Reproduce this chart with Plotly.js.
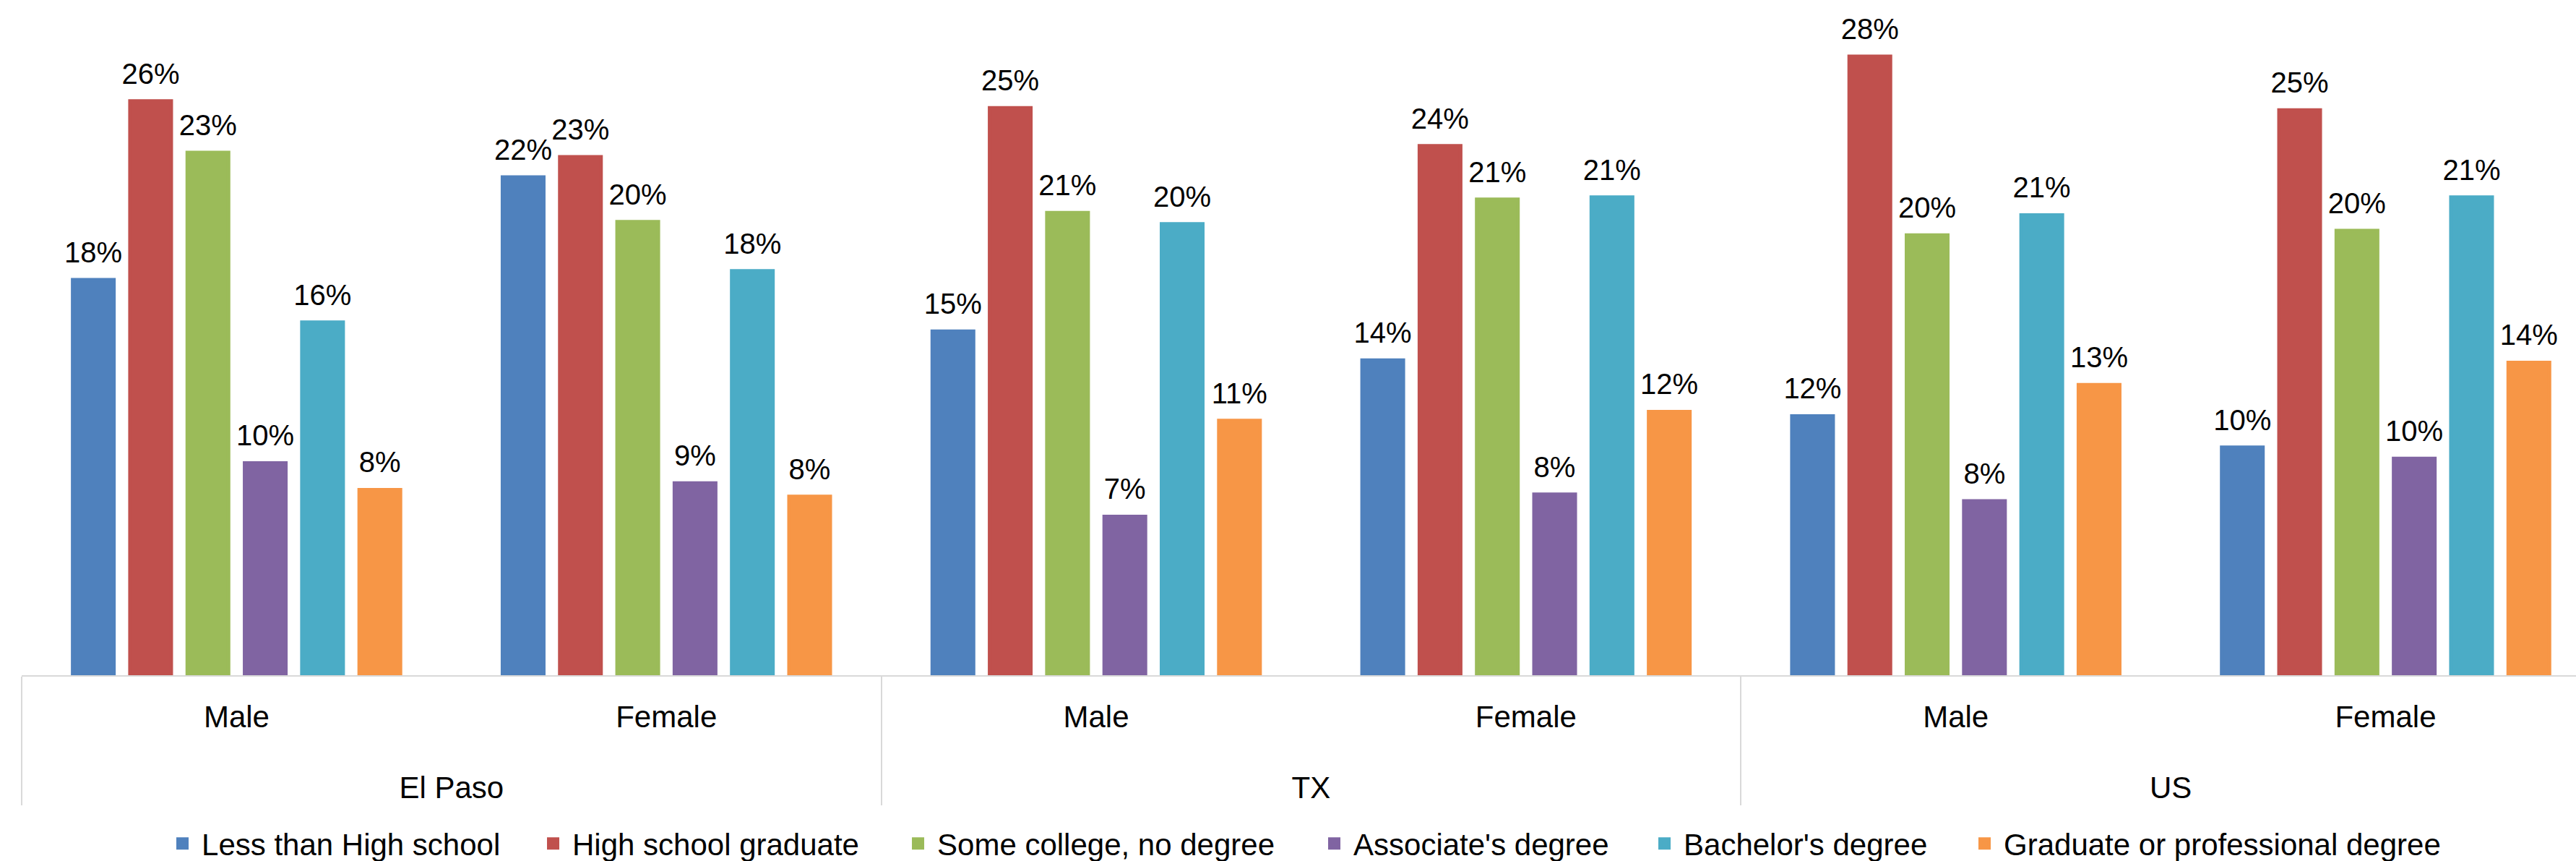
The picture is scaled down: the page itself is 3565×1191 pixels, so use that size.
<!DOCTYPE html>
<html>
<head>
<meta charset="utf-8">
<script src="https://cdn.plot.ly/plotly-3.0.1.min.js"></script>
<style>
html, body { margin: 0; padding: 0; background: #ffffff; overflow: hidden; }
#chart { width: 3565px; height: 1191px; }
</style>
</head>
<body>
<div id="chart"></div>
<script>
// Outer and inner category labels
const regions = ["El Paso", "El Paso", "TX", "TX", "US", "US"];
const sexes = ["Male", "Female", "Male", "Female", "Male", "Female"];

// Series (percent of population)
const seriesNames = [
  "Less than High school",
  "High school graduate",
  "Some college, no degree",
  "Associate's degree",
  "Bachelor's degree",
  "Graduate or professional degree"
];
const lessThanHighSchool = [17.7, 22.3, 15.4, 14.1, 11.6, 10.2];
const highSchoolGraduate = [25.7, 23.2, 25.4, 23.7, 27.7, 25.3];
const someCollege = [23.4, 20.3, 20.7, 21.3, 19.7, 19.9];
const associates = [9.5, 8.6, 7.1, 8.1, 7.8, 9.7];
const bachelors = [15.8, 18.1, 20.2, 21.4, 20.6, 21.4];
const graduate = [8.3, 8.0, 11.4, 11.8, 13.0, 14.0];

const seriesValues = [lessThanHighSchool, highSchoolGraduate, someCollege, associates, bachelors, graduate];
const colors = ["#4F81BD", "#C0504D", "#9BBB59", "#8064A2", "#4BACC6", "#F79646"];

const FONT = '"Liberation Sans", Arial, sans-serif';
const LEGEND_SIZE = 42;

// legend entry widths (px) so that entries sit where the original places them
const legendEntryWidths = [455, 447, 518, 399, 385, 0];

// inner labels get a blank second line to open the gap to the outer level
const innerLabels = sexes.map(s => s + '<br><span style="font-size:104px">\u00a0</span>');

const barTraces = seriesNames.map((name, i) => ({
  type: "bar",
  name: name,
  x: [regions, innerLabels],
  y: seriesValues[i],
  marker: { color: colors[i], line: { color: colors[i], width: 5 } },
  legendwidth: legendEntryWidths[i],
  hoverinfo: "skip"
}));

// data labels, grouped the same way as the bars
const labelTraces = seriesNames.map((name, i) => ({
  type: "scatter",
  mode: "markers+text",
  name: name + " labels",
  showlegend: false,
  x: [regions, innerLabels],
  y: seriesValues[i],
  text: seriesValues[i].map(v => Math.round(v) + "%"),
  textposition: "top center",
  textfont: { family: FONT, size: 40, color: "#000000" },
  marker: { size: 21, color: "rgba(0,0,0,0)" },
  cliponaxis: false,
  hoverinfo: "skip"
}));

const layout = {
  width: 3565,
  height: 1191,
  margin: { l: 30, r: 0, t: 7, b: 257 },
  paper_bgcolor: "#ffffff",
  plot_bgcolor: "#ffffff",
  barmode: "group",
  bargap: 0.2,
  bargroupgap: 0.281,
  scattermode: "group",
  scattergap: 0.2,
  showlegend: true,
  legend: {
    orientation: "h",
    xref: "container",
    x: 0.0634,
    xanchor: "left",
    yref: "container",
    y: 0.0201,
    yanchor: "middle",
    itemwidth: 43,
    font: { family: FONT, size: LEGEND_SIZE, color: "#000000" },
    traceorder: "normal"
  },
  xaxis: {
    type: "multicategory",
    range: [-0.5, 5.443],
    showline: true,
    linecolor: "#D9D9D9",
    linewidth: 2,
    showgrid: false,
    zeroline: false,
    ticks: "",
    ticklabelstandoff: 20,
    showdividers: true,
    dividercolor: "#D9D9D9",
    dividerwidth: 2,
    tickfont: { family: FONT, size: 42, color: "#000000" }
  },
  yaxis: {
    range: [0, 30],
    visible: false,
    showgrid: false,
    zeroline: false
  }
};

Plotly.newPlot("chart", barTraces.concat(labelTraces), layout, { staticPlot: true, displayModeBar: false });
</script>
</body>
</html>
